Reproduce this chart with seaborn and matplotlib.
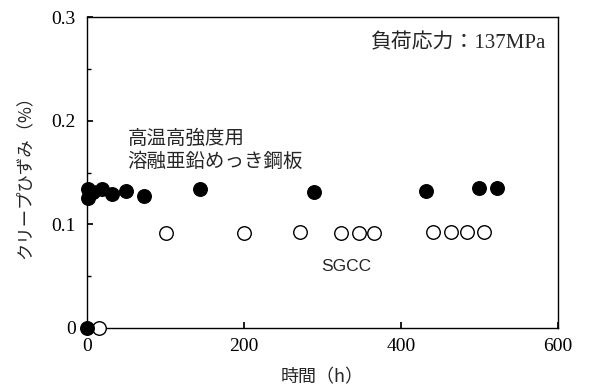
import matplotlib
matplotlib.use('Agg')
import matplotlib.pyplot as plt
import seaborn as sns
import pandas as pd
from matplotlib.ticker import MultipleLocator

# 高温高強度用溶融亜鉛めっき鋼板 (filled)
hot_time = [0, 1, 1, 8, 20, 32, 50, 73, 144, 289, 432, 499, 522]
hot_strain = [0.0, 0.134, 0.125, 0.131, 0.134, 0.129, 0.132, 0.127, 0.134, 0.131, 0.132, 0.135, 0.135]

# SGCC (open)
sgcc_time = [15, 101, 200, 272, 324, 346, 366, 441, 463, 484, 505]
sgcc_strain = [0.0, 0.092, 0.092, 0.093, 0.092, 0.092, 0.092, 0.093, 0.093, 0.093, 0.093]

x_ticks = [0, 200, 400, 600]
y_ticks = [0, 0.1, 0.2, 0.3]
y_tick_labels = ['0', '0.1', '0.2', '0.3']

df = pd.concat([
    pd.DataFrame({'time': hot_time, 'strain': hot_strain, 'steel': 'hot'}),
    pd.DataFrame({'time': sgcc_time, 'strain': sgcc_strain, 'steel': 'SGCC'}),
])

sns.set_theme(style='ticks')
plt.rcParams['font.family'] = ['Liberation Serif', 'Noto Sans CJK JP']
jp = ['Noto Sans CJK JP', 'Liberation Serif']
serif = ['Liberation Serif', 'Noto Sans CJK JP']

fig = plt.figure(figsize=(5.9, 3.9), dpi=100)
ax = fig.add_axes([0.147, 0.159, 0.799, 0.797])

sns.scatterplot(data=df[df.steel == 'SGCC'], x='time', y='strain', ax=ax,
                marker='o', s=95, facecolor='white', edgecolor='black',
                linewidth=1.0, clip_on=False, zorder=3, legend=False)
sns.scatterplot(data=df[df.steel == 'hot'], x='time', y='strain', ax=ax,
                marker='o', s=95, color='black', edgecolor='black',
                linewidth=1.0, clip_on=False, zorder=4, legend=False)

ax.set_xlim(0, 600)
ax.set_ylim(0, 0.3)
ax.set_xticks(x_ticks)
ax.set_xticklabels([str(v) for v in x_ticks], family=serif, fontsize=14)
ax.set_yticks(y_ticks)
ax.set_yticklabels(y_tick_labels, family=serif, fontsize=14)
ax.yaxis.set_minor_locator(MultipleLocator(0.05))
ax.tick_params(axis='both', which='both', direction='in', colors='black')
ax.tick_params(axis='y', which='major', length=4, pad=8)
ax.tick_params(axis='x', which='major', length=4, pad=7)
ax.tick_params(which='minor', length=3)
for sp in ax.spines.values():
    sp.set_color('black')
    sp.set_linewidth(1.0)

ax.set_xlabel('時間（h）', family=jp, fontsize=13, labelpad=10)
ax.set_ylabel('クリープひずみ（%）', family=jp, fontsize=12.5, labelpad=13)

ax.text(0.975, 0.915, '負荷応力：137MPa', transform=ax.transAxes, ha='right', va='center',
        fontsize=15, family=serif)
ax.text(52, 0.172, '高温高強度用\n溶融亜鉛めっき鋼板', ha='left', va='center',
        fontsize=14, family=jp, linespacing=1.15)
ax.text(330, 0.059, 'SGCC', ha='center', va='center', fontsize=12.5, family='Liberation Sans')

fig.savefig('out.png', dpi=100, facecolor='white')
